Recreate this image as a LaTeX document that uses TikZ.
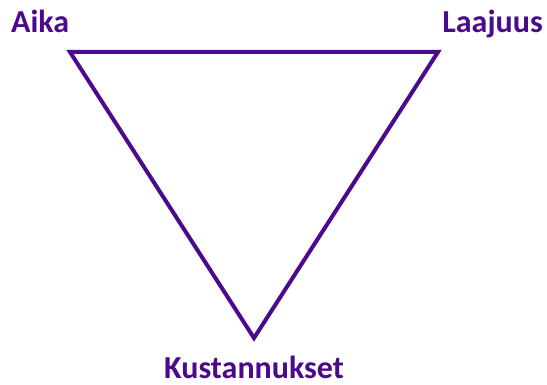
\documentclass[tikz,border=0pt]{standalone}
\usepackage{fontspec}
\setmainfont{Carlito}
\usepackage{tikz}
\definecolor{triviolet}{HTML}{4B0A8C}

\begin{document}
\begin{tikzpicture}[x=1pt, y=-1pt, every node/.style={font=\bfseries\fontsize{32}{38}\selectfont, text=triviolet, inner sep=0pt}]
    \useasboundingbox (0,0) rectangle (547,385);
    \coordinate (aika) at (70,52);
    \coordinate (laajuus) at (438,52);
    \coordinate (kust) at (254,338);
    \node (aikalabel) [anchor=base west] at (11,33) {Aika};
    \node (laajuuslabel) [anchor=base east] at (543,33) {Laajuus};
    \node (kustlabel) [anchor=base] at (254,378) {Kustannukset};
    \draw[triviolet, line width=4pt, line join=miter] (aika) -- (laajuus) -- (kust) -- cycle;
  \end{tikzpicture}
\end{document}
